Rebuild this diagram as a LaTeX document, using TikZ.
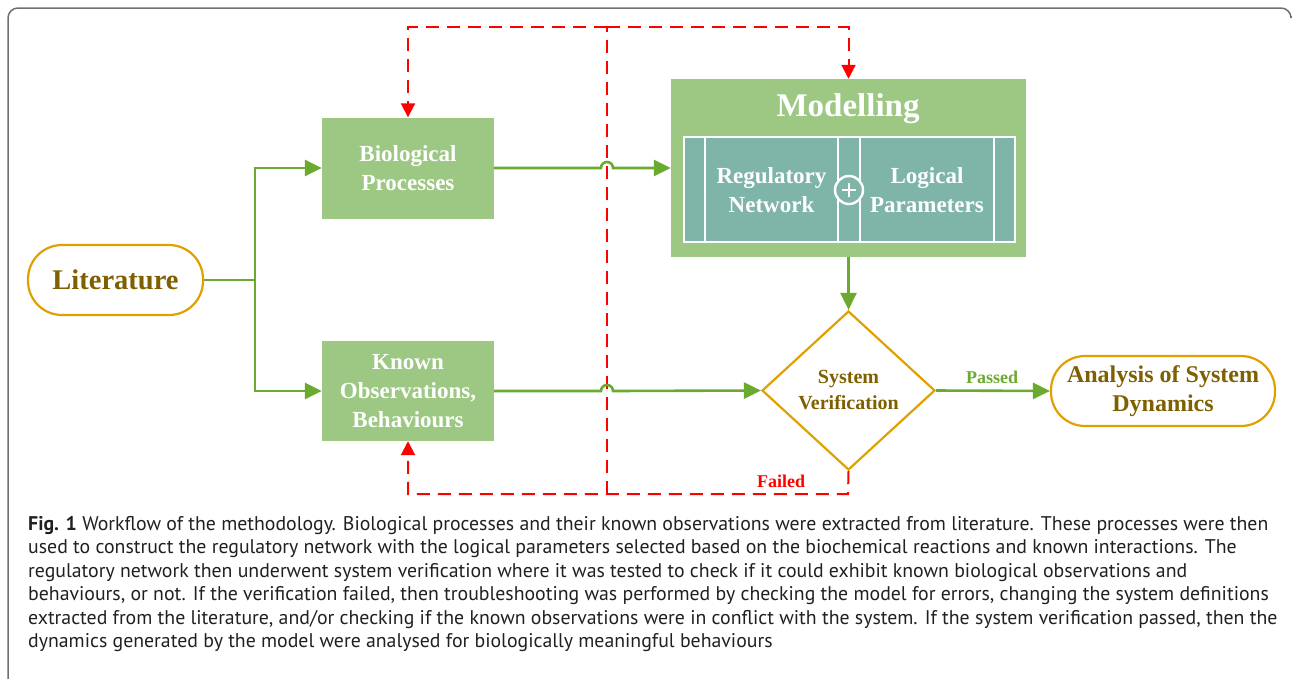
\documentclass[tikz,border=0pt]{standalone}
\usepackage{fontspec}
\setmainfont{Liberation Serif}
\newfontfamily\capfont{PT Sans}
\usetikzlibrary{shapes.geometric,arrows.meta}
\definecolor{boxgreen}{HTML}{9DC884}
\definecolor{linegreen}{HTML}{6AAA2E}
\definecolor{tealbox}{HTML}{7FB5A8}
\definecolor{goldline}{HTML}{E0A000}
\definecolor{goldtext}{HTML}{7F6000}
\definecolor{redline}{HTML}{FF0000}
\definecolor{captext}{HTML}{231F20}
\definecolor{framegray}{HTML}{707070}
\tikzset{
  gbox/.style={rectangle, fill=boxgreen, draw=none, text=white, font=\fontsize{23}{29}\selectfont\bfseries, align=center, inner sep=0pt},
  terminal/.style={rectangle, rounded corners=34pt, draw=goldline, line width=2.2pt, fill=white, text=goldtext, align=center, inner sep=0pt},
  gline/.style={draw=linegreen, line width=2.6pt},
  gtip/.style={-{Triangle[length=17pt,width=16pt]}},
  rline/.style={draw=redline, line width=2pt, dash pattern=on 13pt off 8pt},
  rtip/.style={-{Triangle[length=14pt,width=14pt]}},
  inlabel/.style={text=white, font=\fontsize{23}{29}\selectfont\bfseries, align=center, inner sep=0pt},
  capline/.style={anchor=base west, inner sep=0pt, text=captext, font=\capfont\fontsize{19.8}{23.5}\selectfont}
}
\begin{document}
\begin{tikzpicture}[x=1pt,y=-1pt]
\useasboundingbox (0,0) rectangle (1293,678);
% frame
\draw[framegray, line width=1.5pt, rounded corners=10pt] (8,680) -- (8,8) -- (1291,8) -- (1291,16);

% nodes
\node[terminal, minimum width=175pt, minimum height=70pt, font=\fontsize{28.5}{30}\selectfont\bfseries] (lit) at (115.5,280) {Literature};
\node[gbox, minimum width=172pt, minimum height=101pt] (bio) at (408,168) {Biological\\Processes};
\node[gbox, minimum width=172pt, minimum height=100pt] (known) at (408,391) {Known\\Observations,\\Behaviours};
\node[rectangle, fill=boxgreen, minimum width=355pt, minimum height=178pt, inner sep=0pt] (mod) at (848.5,168) {};
\node[text=white, font=\fontsize{33}{36}\selectfont\bfseries, inner sep=0pt] (modtitle) at (848,109) {Modelling};
\node[rectangle, fill=tealbox, draw=white, line width=1.6pt, minimum width=331pt, minimum height=105pt, inner sep=0pt] (inner) at (849.5,189.5) {};
\draw[white, line width=1.6pt] (705,137) -- (705,242) (838,137) -- (838,242) (860,137) -- (860,242) (994,137) -- (994,242);
\node[circle, fill=tealbox, draw=white, line width=2.4pt, minimum size=28pt, inner sep=0pt] (plus) at (849,190) {};
\draw[white, line width=2pt] ([xshift=-7pt]plus.center) -- ([xshift=7pt]plus.center) ([yshift=-7pt]plus.center) -- ([yshift=7pt]plus.center);
\node[inlabel] (reg) at (771.5,190) {Regulatory\\Network};
\node[inlabel] (logp) at (927,190) {Logical\\Parameters};
\node[diamond, draw=goldline, line width=2.2pt, fill=white, minimum width=173pt, minimum height=159pt, inner sep=0pt, text=goldtext, align=center, font=\fontsize{20}{26}\selectfont\bfseries] (ver) at (848.5,390.5) {System\\Verification};
\node[terminal, minimum width=224pt, minimum height=70pt, font=\fontsize{24}{29}\selectfont\bfseries] (ana) at (1163,391) {Analysis of System\\Dynamics};

% coordinates
\coordinate (split) at (255,280);
\coordinate (fl) at (848,494);
\coordinate (tl) at (607,494);
\coordinate (tt) at (607,27);

% red dashed feedback
\draw[rline] (tl) -- (tt);
\draw[rline, rtip] (ver.south) -- (fl) -| (known.south);
\draw[rline, rtip] (tt) -| (bio.north);
\draw[rline, rtip] (tt) -| (mod.north);

% green connectors
\draw[gline] (lit.east) -- (split);
\draw[gline, gtip] (split) |- (bio.west);
\draw[gline, gtip] (split) |- (known.west);
\draw[gline, gtip] (bio.east) -- (601,168) arc (180:360:6) -- (mod.west);
\draw[gline, gtip] (known.east) -- (601,391) arc (180:360:6) -- (ver.west);
\draw[gline, gtip] (mod.south) -- (ver.north);
\draw[gline, gtip] (ver.east) -- (ana.west);

% labels
\node[text=linegreen, font=\fontsize{18}{20}\selectfont\bfseries, inner sep=0pt] (passed) at (992,377) {Passed};
\node[text=redline, font=\fontsize{18}{20}\selectfont\bfseries, inner sep=0pt] (failed) at (781,481) {Failed};

% caption
\node[capline] (c1) at (28,530) {\textbf{Fig. 1} Workflow of the methodology. Biological processes and their known observations were extracted from literature. These processes were then};
\node[capline] (c2) at (28,553.5) {used to construct the regulatory network with the logical parameters selected based on the biochemical reactions and known interactions. The};
\node[capline] (c3) at (28,577) {regulatory network then underwent system verification where it was tested to check if it could exhibit known biological observations and};
\node[capline] (c4) at (28,600.5) {behaviours, or not. If the verification failed, then troubleshooting was performed by checking the model for errors, changing the system definitions};
\node[capline] (c5) at (28,624) {extracted from the literature, and/or checking if the known observations were in conflict with the system. If the system verification passed, then the};
\node[capline] (c6) at (28,647.5) {dynamics generated by the model were analysed for biologically meaningful behaviours};
\end{tikzpicture}
\end{document}
